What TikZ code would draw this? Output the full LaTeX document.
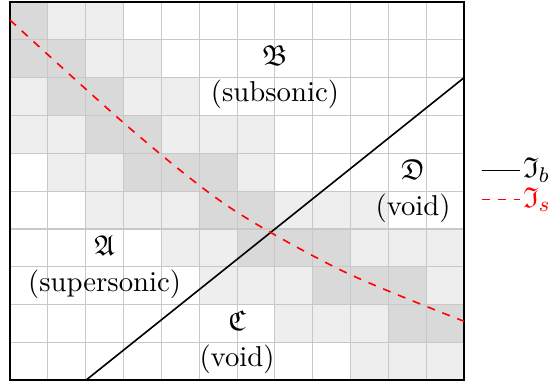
\documentclass[tikz,border=0pt]{standalone}
\usepackage{amsmath,amssymb}
\usepackage{tikz}
\usetikzlibrary{positioning,calc}
\definecolor{RGDark}{HTML}{D9D9D9}
\definecolor{RGLight}{HTML}{EEEEEE}
\definecolor{RGLine}{HTML}{C8C8C8}

\begin{document}
\begin{tikzpicture}[
  x=0.5cm, y=0.5cm,
  cellband/.style={fill=RGDark},
  cellnear/.style={fill=RGLight},
  gridline/.style={RGLine, line width=0.4pt},
  frameline/.style={black, line width=0.8pt},
  boundline/.style={black, semithick},
  sonicline/.style={red, semithick, dashed},
  regionlbl/.style={align=center, font=\fontsize{10.8}{13.5}\selectfont},
  keylbl/.style={anchor=west, inner sep=1pt, font=\fontsize{10.8}{13}\selectfont}
]
\fill[white] (-0.264,-0.106) rectangle (14.32,10.05);
\useasboundingbox (-0.264,-0.106) rectangle (14.32,10.05);
% cells next to the sonic line (column/row from top)
\foreach \c/\t in {1/0,2/0, 2/1,3/1, 0/2,3/2,4/2, 0/3,1/3,4/3,5/3,6/3,
    1/4,2/4,6/4, 2/5,3/5,4/5,7/5,8/5,9/5, 4/6,5/6,9/6,10/6,11/6,
    5/7,6/7,7/7,11/7, 7/8,8/8,9/8, 9/9,10/9,11/9}
  \fill[cellnear] (\c,9-\t) rectangle ++(1,1);
% cells crossed by the sonic line
\foreach \c/\t in {0/0, 0/1,1/1, 1/2,2/2, 2/3,3/3, 3/4,4/4,5/4, 5/5,6/5,
    6/6,7/6,8/6, 8/7,9/7,10/7, 10/8,11/8}
  \fill[cellband] (\c,9-\t) rectangle ++(1,1);
\draw[gridline, step=1] (0,0) grid (12,10);
\draw[frameline] (0,0) rectangle (12,10);

% boundary and sonic lines
\draw[boundline] (2,0) -- (12,8);
\draw[sonicline] plot[smooth] coordinates {(0,9.52) (3.26,6.58) (5.82,4.56) (8.81,2.88) (12,1.56)};

% regions
\node[regionlbl] (regA) at (2.5,3) {$\mathfrak{A}$\\(supersonic)};
\node[regionlbl] (regB) at (7,8) {$\mathfrak{B}$\\(subsonic)};
\node[regionlbl] (regC) at (6,1) {$\mathfrak{C}$\\(void)};
\node[regionlbl] (regD) at (10.65,5) {$\mathfrak{D}$\\(void)};

% legend
\coordinate (keyb) at (12.46,5.55);
\coordinate (keys) at (12.46,4.78);
\node[keylbl] (keyblbl) at (13.47,5.55) {$\mathfrak{I}_b$};
\node[keylbl] (keyslbl) at (13.47,4.78) {\color{red}$\mathfrak{I}_s$};
\draw[boundline] (keyb) -- (keyblbl.west);
\draw[sonicline] (keys) -- (keyslbl.west);
\end{tikzpicture}
\end{document}
